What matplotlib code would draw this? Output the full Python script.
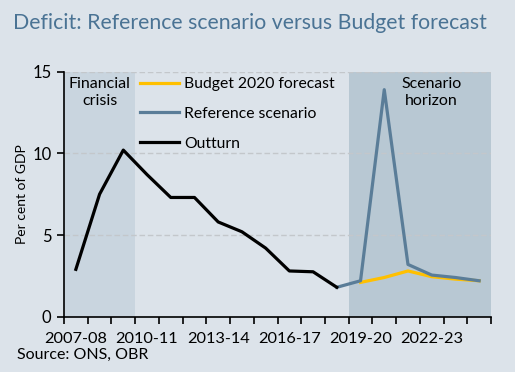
import numpy as np
import matplotlib
matplotlib.use("Agg")
import matplotlib.pyplot as plt

# Data (per cent of GDP)
years = ["2007-08", "2008-09", "2009-10", "2010-11", "2011-12", "2012-13",
         "2013-14", "2014-15", "2015-16", "2016-17", "2017-18", "2018-19",
         "2019-20", "2020-21", "2021-22", "2022-23", "2023-24", "2024-25"]
outturn = [2.9, 7.5, 10.2, 8.7, 7.3, 7.3, 5.8, 5.2, 4.2, 2.8, 2.75, 1.8]
budget = [2.1, 2.4, 2.8, 2.45, 2.3, 2.2]
reference = [1.8, 2.2, 13.9, 3.2, 2.55, 2.4, 2.2]
tick_labels = ["2007-08", "2010-11", "2013-14", "2016-17", "2019-20", "2022-23"]

BG = "#dce3ea"
CRISIS = "#c9d5df"
HORIZON = "#b8c8d3"
REF_COL = "#5a7d98"
BUD_COL = "#ffc000"
TITLE_COL = "#4a7394"
FONT = "Lato"

plt.rcParams["font.family"] = [FONT, "DejaVu Sans"]

fig = plt.figure(figsize=(5.15, 3.72), dpi=100, facecolor=BG)
ax = fig.add_axes([64 / 515, 1 - 316.7 / 372, (491 - 64) / 515, (316.7 - 71.7) / 372])
ax.set_facecolor(BG)

x = np.arange(len(years))
n_out = len(outturn)

# shaded periods
ax.axvspan(-0.5, 2.5, color=CRISIS, zorder=0, lw=0)
ax.axvspan(n_out - 0.5, len(years) - 0.5, color=HORIZON, zorder=0, lw=0)

for yv in [5, 10, 15]:
    ax.axhline(yv, color="#c3c7cb", lw=1, ls=(0, (4, 2)), zorder=1)

ax.plot(x[n_out:], budget, color=BUD_COL, lw=2.3, label="Budget 2020 forecast", zorder=3)
ax.plot(x[n_out - 1:], reference, color=REF_COL, lw=2.3, label="Reference scenario", zorder=4)
ax.plot(x[:n_out], outturn, color="black", lw=2.3, label="Outturn", zorder=5)

ax.set_xlim(-0.5, len(years) - 0.5)
ax.set_ylim(0, 15)
ax.set_yticks([0, 5, 10, 15])
# ticks between categories, labels on every third category
ax.set_xticks(np.arange(-0.5, len(years)), minor=False)
ax.set_xticklabels([])
ax.set_xticks([years.index(t) for t in tick_labels], minor=True)
ax.set_xticklabels(tick_labels, minor=True)
ax.tick_params(axis="x", which="major", length=5, width=1.2, direction="out", color="black")
ax.tick_params(axis="x", which="minor", length=0, labelsize=11.8, pad=11)
ax.tick_params(axis="y", length=5, width=1.2, direction="out", labelsize=12, pad=4)

for s in ["top", "right"]:
    ax.spines[s].set_visible(False)
for s in ["left", "bottom"]:
    ax.spines[s].set_linewidth(1.2)
    ax.spines[s].set_zorder(6)

ax.set_ylabel("Per cent of GDP", fontsize=10, labelpad=3)

ax.text(1.0, 14.7, "Financial\ncrisis", ha="center", va="top", fontsize=11.5, linespacing=1.3)
ax.text(15.0, 14.7, "Scenario\nhorizon", ha="center", va="top", fontsize=11.5, linespacing=1.3)

ax.legend(loc="upper left", bbox_to_anchor=(0.145, 1.035), frameon=False,
          fontsize=11.3, handlelength=2.5, handletextpad=0.3, labelspacing=1.0)

fig.text(13 / 515, 1 - 23 / 372, "Deficit: Reference scenario versus Budget forecast",
         color=TITLE_COL, fontsize=15.3, va="center", ha="left")
fig.text(17 / 515, 1 - 355 / 372, "Source: ONS, OBR", fontsize=11.5, va="center", ha="left")

fig.savefig("out.png", dpi=100, facecolor=BG)
